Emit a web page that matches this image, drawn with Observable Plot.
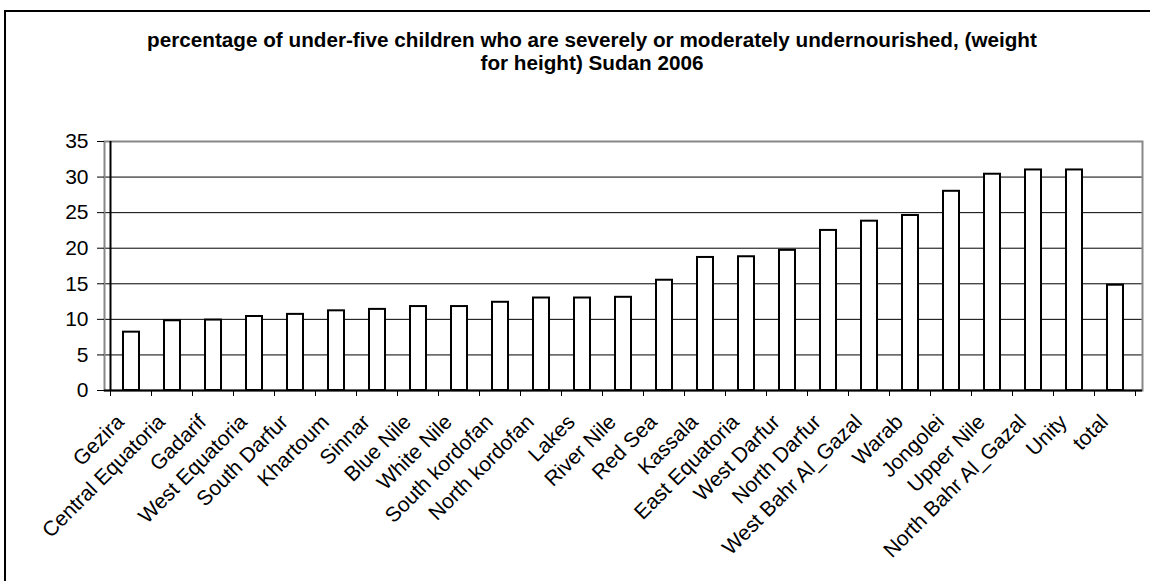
<!DOCTYPE html>
<html><head><meta charset="utf-8">
<script src="https://cdn.jsdelivr.net/npm/d3@7"></script>
<script src="https://cdn.jsdelivr.net/npm/@observablehq/plot@0.6"></script>
<style>
html,body{margin:0;padding:0;background:#fff;}
#wrap{position:relative;width:1150px;height:581px;overflow:hidden;font-family:"Liberation Sans",Arial,sans-serif;}
#frame{position:absolute;left:4px;top:10px;width:1300px;height:800px;border:2px solid #000;box-sizing:border-box;z-index:2;pointer-events:none;}
#title{position:relative;height:100px;}
#title div{position:absolute;left:592px;top:28px;transform:translateX(-50%);white-space:nowrap;text-align:center;font-weight:bold;font-size:20.7px;line-height:23px;color:#000;}
</style></head>
<body>
<div id="wrap">
  <div id="frame"></div>
  <div id="title"><div>percentage of under-five children who are severely or moderately undernourished, (weight<br>for height) Sudan 2006</div></div>
  <div id="chart"></div>
</div>
<script>
const regions = ["Gezira","Central Equatoria","Gadarif","West Equatoria","South Darfur","Khartoum","Sinnar","Blue Nile","White Nile","South kordofan","North kordofan","Lakes","River Nile","Red Sea","Kassala","East Equatoria","West Darfur","North Darfur","West Bahr Al_Gazal","Warab","Jongolei","Upper Nile","North Bahr Al_Gazal","Unity","total"];
const values = [8.2, 9.8, 9.9, 10.4, 10.7, 11.2, 11.4, 11.8, 11.8, 12.4, 13.0, 13.0, 13.1, 15.5, 18.7, 18.8, 19.7, 22.5, 23.8, 24.6, 28.0, 30.4, 31.0, 31.0, 14.8];
const yTicks = [0, 5, 10, 15, 20, 25, 30, 35];

const data = regions.map((r, i) => ({region: r, value: values[i]}));

function boundaryTicks(index, scales, channels, dimensions, context) {
  const x = scales.x, y = scales.y;
  const bw = (scales.scales && scales.scales.x && scales.scales.x.bandwidth != null) ? scales.scales.x.bandwidth : x.bandwidth();
  const centers = regions.map(r => x(r) + bw / 2);
  const step = centers[1] - centers[0];
  const bounds = centers.map(c => c - step / 2).concat([centers[centers.length - 1] + step / 2]);
  const y0 = y(0), yTop = y(35);
  const g = d3.create("svg:g");
  g.selectAll("line.t").data(bounds).join("line")
    .attr("x1", d => d).attr("x2", d => d)
    .attr("y1", y0).attr("y2", y0 + 6)
    .attr("stroke", "#000").attr("stroke-width", 1);
  g.append("line")
    .attr("x1", bounds[0]).attr("x2", bounds[0])
    .attr("y1", yTop).attr("y2", y0)
    .attr("stroke", "#000").attr("stroke-width", 2);
  return g.node();
}

const chart = Plot.plot({
  width: 1150, height: 481,
  marginLeft: 104, marginRight: 8, marginTop: 41, marginBottom: 191,
  style: {background: "transparent", fontFamily: "'Liberation Sans', Arial, sans-serif", fontSize: "21px", color: "#000"},
  x: {domain: regions, paddingInner: 0.62, paddingOuter: 0.31, label: null},
  y: {domain: [0, 35], label: null},
  marks: [
    Plot.ruleY(yTicks.filter(t => t > 0 && t < 35), {stroke: "#000", strokeWidth: 1}),
    Plot.frame({stroke: "#888", strokeWidth: 2}),
    Plot.barY(data, {x: "region", y: "value", fill: "#fff", stroke: "#000", strokeWidth: 2}),
    Plot.ruleY([0], {stroke: "#000", strokeWidth: 2}),
    Plot.axisY({ticks: yTicks, tickSize: 7, tickPadding: 9, fontSize: 21, label: null}),
    Plot.axisX({tickSize: 0, tickRotate: -45, tickPadding: 28, dx: -11, fontSize: 21, label: null}),
    boundaryTicks
  ]
});
document.getElementById("chart").appendChild(chart);
</script>
</body></html>
